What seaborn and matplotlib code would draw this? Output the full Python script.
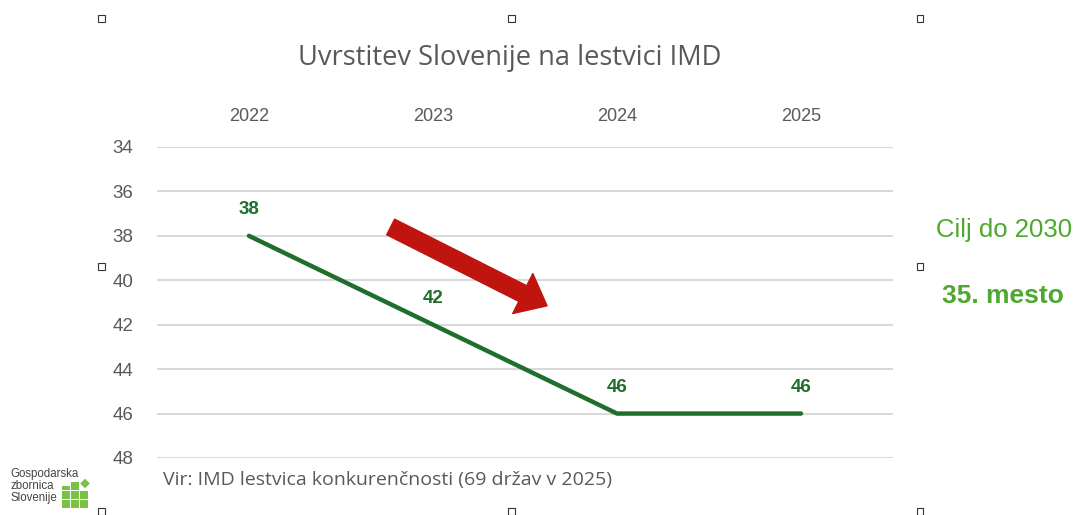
import matplotlib.pyplot as plt
import matplotlib.patches as mpatches
from matplotlib import font_manager
import seaborn as sns
import pandas as pd

# data
years = ['2022', '2023', '2024', '2025']
rank = [38, 42, 46, 46]
y_ticks = [34, 36, 38, 40, 42, 44, 46, 48]

title = 'Uvrstitev Slovenije na lestvici IMD'
source = 'Vir: IMD lestvica konkurenčnosti (69 držav v 2025)'
goal_1 = 'Cilj do 2030'
goal_2 = '35. mesto'
logo_text = 'Gospodarska\nzbornica\nSlovenije'

df = pd.DataFrame({'leto': years, 'mesto': rank})

# drop the narrow Liberation variant so 'Liberation Sans' resolves to the normal one
font_manager.fontManager.ttflist = [f for f in font_manager.fontManager.ttflist
                                    if 'Narrow' not in f.fname]

sns.set_theme(style='white')
plt.rcParams['font.family'] = ['Liberation Sans', 'DejaVu Sans']

line_col = '#1f6e2b'
grey = '#595959'
light_green = '#4ea72e'
logo_green = '#7ac143'

fig = plt.figure(figsize=(10.78, 5.15), dpi=100)
ax = fig.add_axes([0.1456, 0.1107, 0.6828, 0.6039])

x = list(range(len(years)))
sns.lineplot(x=x, y=df['mesto'], ax=ax, color=line_col, linewidth=3.2,
             solid_capstyle='round')
for xi, v in zip(x, rank):
    ax.annotate(str(v), (xi, v), xytext=(0, 19), textcoords='offset points',
                ha='center', va='center', fontsize=13.5, fontweight='bold',
                color=line_col)

ax.set_xlim(-0.5, 3.5)
ax.set_ylim(48, 34)
ax.set_yticks(y_ticks)
ax.set_yticklabels([str(t) for t in y_ticks])
ax.set_xticks(x)
ax.set_xticklabels(years)
ax.xaxis.tick_top()
ax.tick_params(axis='x', length=0, pad=16, labelsize=13, labelcolor=grey)
ax.tick_params(axis='y', length=0, pad=17, labelsize=13.5, labelcolor=grey)
ax.yaxis.grid(True, color='#d9d9d9', linewidth=1.5)
ax.set_axisbelow(True)
for s in ax.spines.values():
    s.set_visible(False)
ax.set_xlabel('')
ax.set_ylabel('')

# red arrow
ax.annotate('', xy=(1.62, 41.15), xytext=(0.77, 37.6),
            arrowprops=dict(arrowstyle='simple,head_length=1.4,head_width=2.3,tail_width=0.9',
                            color='#c0140f', shrinkA=0, shrinkB=0,
                            mutation_scale=14))

fig.text(0.473, 0.888, title, ha='center', va='center', fontsize=19.6,
         color=grey, family=['Open Sans', 'DejaVu Sans'])
fig.text(0.151, 0.067, source, ha='left', va='center', fontsize=14,
         color=grey, family=['Open Sans', 'DejaVu Sans'])
fig.text(0.931, 0.553, goal_1, ha='center', va='center', fontsize=18.5,
         color=light_green)
fig.text(0.930, 0.425, goal_2, ha='center', va='center', fontsize=19,
         color=light_green, fontweight='bold')

# logo
fig.text(0.010, 0.056, logo_text, ha='left', va='center', fontsize=8.3,
         color='#444444', linespacing=1.0)
W, H = 1078, 515
sq = 7.5
for r in range(3):
    for c in range(3):
        px = 62 + c * 9
        py = 482 + r * 9
        h = sq
        if r == 0 and c == 2:
            continue
        if r == 0 and c == 0:
            py, h = py + 3.5, sq - 3.5
        fig.add_artist(mpatches.Rectangle((px / W, 1 - (py + h) / H), sq / W, h / H,
                                          transform=fig.transFigure,
                                          facecolor=logo_green, linewidth=0))
cx, cy, d = 85, 483.5, 4.8
fig.add_artist(mpatches.Polygon([((cx - d) / W, 1 - cy / H), (cx / W, 1 - (cy - d) / H),
                                 ((cx + d) / W, 1 - cy / H), (cx / W, 1 - (cy + d) / H)],
                                transform=fig.transFigure,
                                facecolor=logo_green, linewidth=0))

# selection handles
for hx, hy in [(101, 18), (511, 18), (920, 18), (101, 266), (920, 266),
               (101, 511), (511, 511), (920, 511)]:
    fig.add_artist(mpatches.Rectangle(((hx - 3.5) / W, 1 - (hy + 3.5) / H), 7 / W, 7 / H,
                                      transform=fig.transFigure,
                                      facecolor='white', edgecolor='#333333',
                                      linewidth=0.8))

fig.savefig('out.png', dpi=100)
